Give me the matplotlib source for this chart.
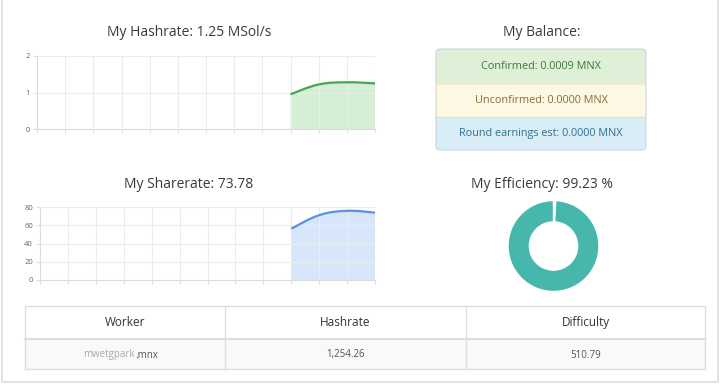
import matplotlib
matplotlib.use("Agg")
import matplotlib.pyplot as plt
from matplotlib.path import Path
from matplotlib.patches import PathPatch, Rectangle, FancyBboxPatch

plt.rcParams["font.family"] = ["Open Sans", "DejaVu Sans"]

W, H = 720, 385

# data
slots = list(range(13))
hash_idx = [9, 10, 11, 12]
hash_vals = [0.95, 1.22, 1.28, 1.25]
share_idx = [9, 10, 11, 12]
share_vals = [56.2, 71.0, 75.8, 73.8]
hash_yticks = [0, 1, 2]
share_yticks = [0, 20, 40, 60, 80]

balance_labels = ["Confirmed: 0.0009 MNX", "Unconfirmed: 0.0000 MNX", "Round earnings est: 0.0000 MNX"]
efficiency = [0.77, 99.23]

table_header = ["Worker", "Hashrate", "Difficulty"]
table_row = ["mwetgpark", "1,254.26", "510.79"]

titles = ["My Hashrate: 1.25 MSol/s", "My Sharerate: 73.78", "My Balance:", "My Efficiency: 99.23 %"]


def px_axes(fig, x0, y0, x1, y1, **kw):
    return fig.add_axes([x0 / W, 1 - y1 / H, (x1 - x0) / W, (y1 - y0) / H], **kw)


def smooth_path(xs, ys, ybase, t=0.4):
    # chart.js-like bezier with tension
    n = len(xs)
    verts = [(xs[0], ys[0])]
    codes = [Path.MOVETO]
    for i in range(n - 1):
        xp, yp = (xs[i - 1], ys[i - 1]) if i > 0 else (xs[i], ys[i])
        xn2, yn2 = (xs[i + 2], ys[i + 2]) if i + 2 < n else (xs[i + 1], ys[i + 1])
        c1 = (xs[i] + (xs[i + 1] - xp) * t / 2, ys[i] + (ys[i + 1] - yp) * t / 2)
        c2 = (xs[i + 1] - (xn2 - xs[i]) * t / 2, ys[i + 1] - (yn2 - ys[i]) * t / 2)
        verts += [c1, c2, (xs[i + 1], ys[i + 1])]
        codes += [Path.CURVE4] * 3
    line = Path(verts, codes)
    fill = Path(verts + [(xs[-1], ybase), (xs[0], ybase), (xs[0], ys[0])],
                codes + [Path.LINETO, Path.LINETO, Path.CLOSEPOLY])
    return line, fill


def line_chart(ax, idx, vals, yticks, lc, fc):
    ax.set_facecolor("none")
    ax.set_xlim(slots[0], slots[-1])
    ax.set_ylim(yticks[0], yticks[-1])
    ax.set_xticks(slots)
    ax.set_xticklabels([])
    ax.set_yticks(yticks)
    ax.set_yticklabels([str(v) for v in yticks], fontsize=5.5, color="#666666")
    ax.grid(True, color="#ececec", linewidth=0.8)
    ax.tick_params(length=3, color="#e0e0e0", pad=2)
    for s in ["top", "right"]:
        ax.spines[s].set_visible(False)
    for s in ["left", "bottom"]:
        ax.spines[s].set_color("#dcdcdc")
        ax.spines[s].set_linewidth(0.8)
    line, fill = smooth_path(idx, vals, yticks[0])
    ax.add_patch(PathPatch(fill, facecolor=fc, edgecolor="none", zorder=1))
    ax.add_patch(PathPatch(line, facecolor="none", edgecolor=lc, linewidth=1.6, zorder=3))


fig = plt.figure(figsize=(W / 100, H / 100), dpi=100)
bg = fig.add_axes([0, 0, 1, 1])
bg.set_xlim(0, W)
bg.set_ylim(H, 0)
bg.axis("off")

# outer frame
bg.add_patch(Rectangle((1.5, -2), W - 4, H - 1, facecolor="none", edgecolor="#dddddd", linewidth=1.2))

# titles
for txt, (x, y) in zip(titles, [(189, 33), (189, 185), (542, 33), (542, 185)]):
    bg.text(x, y, txt, ha="center", va="center", fontsize=10, color="#3a3a3a")

# line charts
ax1 = px_axes(fig, 37, 56, 375, 129)
line_chart(ax1, hash_idx, hash_vals, hash_yticks, "#45a84e", "#d6edd6")
ax2 = px_axes(fig, 40, 207, 375, 280)
line_chart(ax2, share_idx, share_vals, share_yticks, "#5a92de", "#d7e6fb")

# balance box
bx0, bx1 = 436, 646
rows_y = [49, 84, 117, 150]
fills = ["#dff0d8", "#fcf8e3", "#d9edf7"]
edges = ["#d6e9c6", "#faebcc", "#bce8f1"]
tcols = ["#3c763d", "#8a6d3b", "#31708f"]
clip = FancyBboxPatch((bx0, rows_y[0]), bx1 - bx0, rows_y[-1] - rows_y[0],
                      boxstyle="round,pad=0,rounding_size=4", facecolor="none",
                      edgecolor="#d0d8dc", linewidth=0.8, zorder=3)
bg.add_patch(clip)
for i, lab in enumerate(balance_labels):
    r = Rectangle((bx0, rows_y[i]), bx1 - bx0, rows_y[i + 1] - rows_y[i],
                  facecolor=fills[i], edgecolor=edges[i], linewidth=0.8, zorder=2)
    bg.add_patch(r)
    r.set_clip_path(clip)
    bg.text((bx0 + bx1) / 2, (rows_y[i] + rows_y[i + 1]) / 2, lab, ha="center", va="center",
            fontsize=7.8, color=tcols[i], zorder=4)

# donut
ax3 = px_axes(fig, 508, 200.5, 599, 291.5)
ax3.pie(efficiency, colors=["#f2f2f2", "#47b7ac"], startangle=90, counterclock=False,
        radius=1, wedgeprops=dict(width=0.47, edgecolor="white", linewidth=1))
ax3.set_xlim(-1, 1)
ax3.set_ylim(-1, 1)
ax3.set_aspect("equal")

# table
tx = [25, 225, 466, 705]
ty = [306, 339, 369]
bg.add_patch(Rectangle((tx[0], ty[1]), tx[-1] - tx[0], ty[2] - ty[1], facecolor="#f9f9f9", edgecolor="none"))
bg.add_patch(Rectangle((tx[0], ty[0]), tx[-1] - tx[0], ty[2] - ty[0], facecolor="none",
                       edgecolor="#dddddd", linewidth=1))
bg.plot([tx[0], tx[-1]], [ty[1], ty[1]], color="#dddddd", linewidth=1.5)
for x in tx[1:-1]:
    bg.plot([x, x], [ty[0], ty[2]], color="#dddddd", linewidth=1)
for i, h in enumerate(table_header):
    bg.text((tx[i] + tx[i + 1]) / 2, (ty[0] + ty[1]) / 2, h, ha="center", va="center",
            fontsize=8.5, color="#333333", fontweight="medium")
# worker name (blurred part shown faint)
ry = (ty[1] + ty[2]) / 2 + 1
bg.text(135, ry, table_row[0], ha="right", va="center", fontsize=7, color="#aaaaaa")
bg.text(135, ry, ".mnx", ha="left", va="center", fontsize=7, color="#555555")
for i in (1, 2):
    bg.text((tx[i] + tx[i + 1]) / 2, ry, table_row[i], ha="center", va="center",
            fontsize=7, color="#555555")

fig.savefig("out.png", dpi=100)
